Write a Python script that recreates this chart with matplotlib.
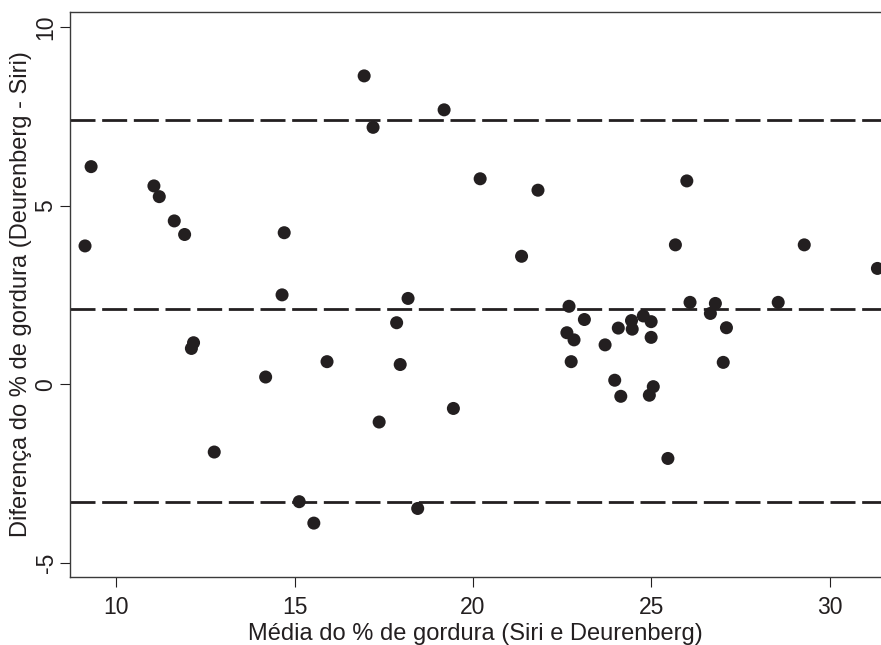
import matplotlib
matplotlib.use('Agg')
import matplotlib.pyplot as plt

# Bland-Altman: mean of Siri and Deurenberg vs difference
media = [9.13, 9.30, 11.06, 11.21, 11.63, 11.92, 12.11, 12.17, 12.75, 14.19,
         14.65, 14.71, 15.13, 15.54, 15.91, 16.95, 17.20, 17.37, 17.86, 17.96,
         18.18, 18.45, 19.19, 19.45, 20.20, 21.36, 21.82, 22.63, 22.69, 22.75,
         22.83, 23.12, 23.70, 23.97, 24.07, 24.14, 24.44, 24.46, 24.77, 24.94,
         24.99, 24.99, 25.05, 25.46, 25.67, 25.99, 26.08, 26.65, 26.79, 27.01,
         27.10, 28.55, 29.28, 31.33]
diferenca = [3.87, 6.09, 5.55, 5.25, 4.57, 4.19, 1.00, 1.16, -1.90, 0.20,
             2.50, 4.24, -3.29, -3.89, 0.63, 8.63, 7.19, -1.06, 1.72, 0.55,
             2.40, -3.48, 7.68, -0.68, 5.75, 3.58, 5.43, 1.44, 2.18, 0.63,
             1.24, 1.81, 1.10, 0.11, 1.57, -0.34, 1.78, 1.54, 1.91, -0.31,
             1.75, 1.31, -0.07, -2.08, 3.90, 5.69, 2.29, 1.98, 2.26, 0.61,
             1.58, 2.29, 3.90, 3.24]

# mean difference and limits of agreement
limites = [7.39, 2.10, -3.29]

x_ticks = [10, 15, 20, 25, 30]
y_ticks = [-5, 0, 5, 10]

plt.rcParams['font.family'] = ['Liberation Sans', 'DejaVu Sans']
plt.rcParams['axes.unicode_minus'] = False
cor = '#231f20'

fig = plt.figure(figsize=(8.81, 6.45), dpi=100)
ax = fig.add_axes([0.0795, 0.1059, 0.9205, 0.8750])

for lim in limites:
    ax.axhline(lim, color=cor, linewidth=2.0, dashes=(9.0, 2.4), zorder=1)

ax.scatter(media, diferenca, s=88, color=cor, edgecolors='none', zorder=2)

ax.set_xlim(8.71, 31.43)
ax.set_ylim(-5.39, 10.41)
ax.set_xticks(x_ticks)
ax.set_yticks(y_ticks)
ax.tick_params(axis='both', direction='out', length=7, width=0.8, colors=cor,
               labelsize=16.5)
ax.tick_params(axis='x', pad=7)
ax.tick_params(axis='y', labelrotation=90, pad=2)
for lbl in ax.get_yticklabels():
    lbl.set_verticalalignment('center')

for side in ['left', 'bottom', 'top']:
    ax.spines[side].set_linewidth(1.0)
    ax.spines[side].set_color('#3a3a3a')
ax.spines['right'].set_visible(False)

ax.set_xlabel('Média do % de gordura (Siri e Deurenberg)', fontsize=17,
              color=cor, labelpad=3)
ax.set_ylabel('Diferença do % de gordura (Deurenberg - Siri)', fontsize=17,
              color=cor, labelpad=2)

fig.savefig('out.png', dpi=100)
